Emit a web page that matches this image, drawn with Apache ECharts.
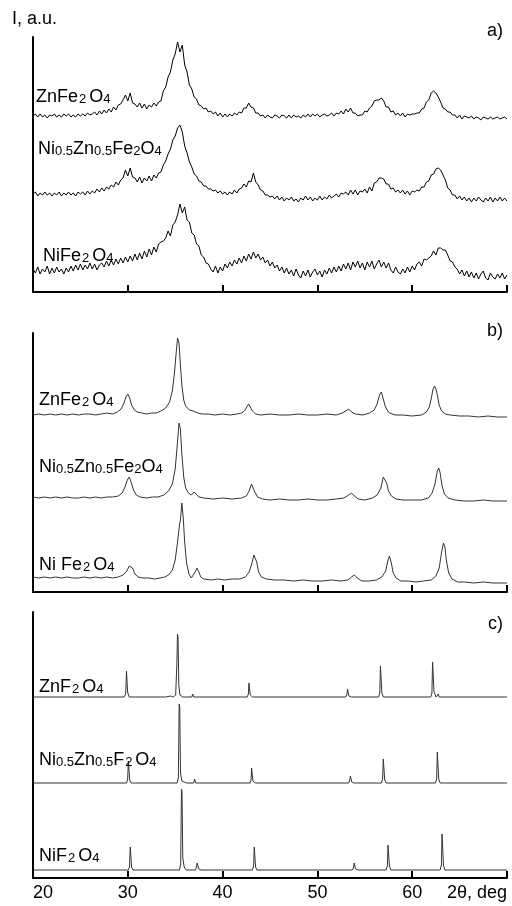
<!DOCTYPE html>
<html>
<head>
<meta charset="utf-8">
<script src="https://cdn.jsdelivr.net/npm/echarts@6/dist/echarts.min.js"></script>
<style>html,body{margin:0;padding:0;background:#fff}#c{width:512px;height:906px}</style>
</head>
<body>
<div id="c"></div>
<script>
// ---------- DATA ----------
// Panel a): noisy patterns sampled every 0.25 deg from 20 to 70 deg (2theta)
const twoThetaStartA = 20;
const twoThetaStepA = 0.25;
const znFeA = [0,2,-1,2,-1,1,-2,1,0,2,-1,1,-1,2,0,2,-1,1,-1,2,0,2,0,3,1,
  2,4,1,5,2,6,3,7,4,9,6,11,
  12,16,21,15,23,13,12,
  9,13,8,12,7,11,9,13,10,14,
  15,25,29,39,44,56,62,74,64,71,51,44,31,27,19,17,11,10,
  7,8,4,5,2,4,0,3,-1,2,-1,2,0,3,1,4,
  3,8,8,13,9,8,3,3,0,
  1,-2,1,-1,-2,1,0,-2,1,0,-2,1,-2,1,-1,0,-2,1,-1,2,-1,2,0,2,-1,1,2,0,1,3,0,3,
  2,5,2,7,4,8,3,3,0,1,
  1,5,4,8,10,15,16,16,18,15,9,9,4,5,1,3,
  0,3,-1,2,1,2,2,3,3,
  7,8,14,16,23,25,23,19,14,8,7,4,4,1,1,
  -2,1,-3,0,-1,-2,0,-3,-1,-2,-4,-1,-2,-3,-1,-3,-2,-1,-3,-2,-1,-3];
const niZnFeA = [1,3,-1,2,0,3,0,2,-1,2,0,3,-1,2,0,3,0,2,-1,3,1,3,0,4,1,4,2,
  6,3,7,4,8,6,10,8,13,10,15,
  17,25,19,27,18,
  17,13,18,12,17,14,19,14,20,17,22,
  23,30,34,41,46,55,59,67,70,63,49,42,33,28,21,19,14,13,
  9,9,6,6,4,5,2,4,1,3,0,3,1,5,2,6,7,
  11,8,14,13,22,13,10,5,4,0,
  0,-2,-1,-4,-1,-5,-2,-6,-3,-5,-2,-6,-4,-7,-3,-5,-1,-5,-2,-6,-3,-5,-1,-5,-2,-4,0,-3,-1,1,-2,2,
  1,3,0,5,1,5,0,4,3,6,2,8,4,
  12,13,17,17,16,11,11,6,7,3,5,
  2,5,1,4,0,4,3,5,4,8,
  8,13,14,20,21,26,27,25,20,15,7,5,0,0,
  -4,-1,-5,-2,-6,-3,-7,-3,-6,-2,-5,-7,-3,-6,-2,-7,-3,-6,-2,-6,-3,-6];
const niFeA = [-1,-5,1,-6,-1,-4,2,-6,0,-5,1,-4,-1,-6,0,
  -4,2,-3,3,-2,4,-2,3,-1,5,-1,4,-2,3,
  5,1,7,2,8,3,9,4,10,5,11,6,12,7,
  14,8,15,9,17,11,19,13,21,16,
  24,26,27,30,37,32,43,46,53,64,55,61,
  48,46,35,33,24,22,13,11,5,4,-1,
  -4,2,-5,1,-3,4,0,6,2,
  8,4,10,5,12,7,14,9,16,10,14,8,11,5,
  8,2,6,0,3,-3,1,-5,0,-6,
  -2,-8,-1,-7,-10,-3,-8,-2,-9,-4,-1,-7,-3,-9,-2,-6,0,-5,1,-4,
  2,-3,4,-1,5,-2,6,1,7,0,5,-2,6,1,7,-1,4,8,1,6,0,5,
  -2,-5,1,-4,-6,-1,-5,1,-4,2,-2,4,
  6,2,9,8,10,12,17,13,20,20,18,18,13,7,6,1,
  -1,-6,-2,-8,-3,-9,-4,-10,-5,-11,-6,-3,-10,-12,-5,-9,-11,-6,-10,-5,-11,-7];

// Panel b): [2theta, intensity]
const znFeB = [[20,0],[20.6,1],[21.2,0],[21.8,1],[22.4,0],[23,1],[23.6,0],[24.2,1],[24.8,0],[25.4,1],[26,1],[26.6,0],[27.2,1],[27.8,2],[28.4,1],[28.9,3],[29.3,6],[29.6,12],[29.8,18],[30.0,21],[30.2,17],[30.4,10],[30.7,5],[31.0,3],[31.5,2],[32,1],[32.5,2],[33,2],[33.5,4],[34.0,7],[34.4,13],[34.7,24],[34.9,40],[35.1,62],[35.25,77],[35.4,72],[35.55,50],[35.7,30],[35.9,15],[36.1,9],[36.3,7],[36.5,5],[36.7,6],[36.9,4],[37.1,5],[37.4,2],[37.8,1],[38.5,1],[39.2,0],[40,1],[40.8,0],[41.5,1],[42.0,2],[42.3,4],[42.55,8],[42.75,11],[42.95,9],[43.15,4],[43.5,1],[44,0],[45,1],[46,0],[47,0],[48,1],[49,0],[50,0],[51,1],[52,0],[52.6,2],[53.0,4],[53.3,6],[53.6,3],[54,1],[54.8,0],[55.5,2],[56.0,5],[56.3,11],[56.55,20],[56.75,23],[56.95,16],[57.15,9],[57.35,5],[57.6,2],[58.2,0],[59,0],[60,-1],[61,0],[61.5,3],[61.8,8],[62.0,16],[62.2,26],[62.35,29],[62.5,26],[62.65,20],[62.85,10],[63.1,4],[63.5,1],[64,0],[65,-1],[66,-1],[67,-2],[68,-1],[69,-2],[70,-2]];
const niZnFeB = [[20,2],[20.6,1],[21.2,2],[21.8,1],[22.4,2],[23,1],[23.6,2],[24.2,1],[24.8,1],[25.4,2],[26,1],[26.6,2],[27.2,1],[27.8,2],[28.4,2],[29,3],[29.4,6],[29.7,12],[29.95,19],[30.15,22],[30.35,17],[30.6,9],[30.9,4],[31.3,2],[32,1],[32.6,2],[33.2,2],[33.8,4],[34.3,8],[34.7,15],[35.0,30],[35.2,52],[35.4,76],[35.55,70],[35.7,45],[35.9,22],[36.1,11],[36.4,6],[36.7,4],[37.0,7],[37.2,5],[37.5,2],[38,1],[39,0],[40,1],[41,0],[42,1],[42.5,3],[42.8,8],[43.05,15],[43.2,14],[43.4,7],[43.7,2],[44.2,0],[45,-1],[46,0],[47,-1],[48,-1],[49,0],[50,-1],[51,-1],[52,0],[52.8,1],[53.3,4],[53.6,6],[53.9,3],[54.3,0],[55,-1],[55.8,1],[56.3,4],[56.7,11],[56.95,22],[57.1,24],[57.3,16],[57.5,8],[57.8,3],[58.3,0],[59,-1],[60,-1],[61,-1],[61.7,1],[62.1,6],[62.4,15],[62.65,28],[62.8,31],[62.95,26],[63.15,13],[63.4,5],[63.8,1],[64.5,-1],[65.5,-2],[66.5,-2],[67.5,-1],[68.5,-2],[69.3,-2],[70,-2]];
const niFeB = [[20,3],[20.6,2],[21.2,3],[21.8,2],[22.4,3],[23,2],[23.6,3],[24.2,2],[24.8,2],[25.4,3],[26,2],[26.6,3],[27.2,2],[27.8,3],[28.4,2],[29,3],[29.5,5],[29.9,9],[30.15,14],[30.3,16],[30.5,12],[30.75,6],[31.1,3],[31.6,2],[32.2,2],[32.8,1],[33.4,2],[33.9,3],[34.3,5],[34.7,10],[35.0,20],[35.25,38],[35.45,55],[35.55,60],[35.7,77],[35.85,62],[36.0,38],[36.2,17],[36.45,6],[36.7,2],[36.9,3],[37.1,8],[37.3,12],[37.5,8],[37.7,3],[38,1],[38.8,0],[39.5,1],[40.2,0],[41,1],[41.8,1],[42.4,3],[42.8,8],[43.1,17],[43.3,25],[43.45,26],[43.6,18],[43.8,8],[44.1,3],[44.6,1],[45.5,0],[46.5,0],[47.5,-1],[48.5,0],[49.5,-1],[50.5,-1],[51.5,0],[52.5,-1],[53.2,0],[53.6,3],[53.9,5],[54.2,2],[54.7,-1],[55.5,-1],[56.2,0],[56.8,3],[57.2,9],[57.45,20],[57.6,24],[57.8,17],[58.0,7],[58.3,2],[58.8,-1],[59.6,-1],[60.4,-2],[61.2,-1],[62.0,0],[62.5,4],[62.85,12],[63.1,28],[63.3,37],[63.45,33],[63.6,20],[63.85,7],[64.2,1],[64.8,-2],[65.5,-2],[66.5,-3],[67.5,-2],[68.5,-3],[69.3,-3],[70,-3]];

// Panel c): [2theta, intensity]
const znFC = [[20,0],[29.6,0],[29.78,3],[29.86,26],[29.92,28],[29.98,5],[30.15,0],[34.0,0],[34.5,1],[34.8,0],[35.05,2],[35.18,35],[35.24,63],[35.3,60],[35.38,12],[35.5,2],[35.8,0],[36.75,0],[36.85,3],[36.95,0],[42.6,0],[42.72,3],[42.78,14],[42.84,13],[42.92,2],[43.15,0],[53.0,0],[53.12,3],[53.18,8],[53.24,7],[53.32,1],[53.56,0],[56.45,0],[56.58,4],[56.65,31],[56.71,29],[56.8,4],[56.95,0],[61.95,0],[62.08,4],[62.15,35],[62.21,33],[62.3,5],[62.52,0],[62.75,3],[62.85,0],[70,0]];
const niZnFC = [[20,0],[29.85,0],[29.98,3],[30.06,22],[30.12,21],[30.2,3],[30.35,0],[35.2,0],[35.33,5],[35.42,79],[35.48,76],[35.56,10],[35.7,2],[35.95,1],[36.2,0],[36.95,0],[37.05,4],[37.16,0],[42.9,0],[43.0,3],[43.06,15],[43.12,14],[43.2,2],[43.45,0],[53.3,0],[53.42,3],[53.48,7],[53.54,6],[53.62,1],[53.85,0],[56.75,0],[56.88,4],[56.95,24],[57.01,23],[57.1,3],[57.25,0],[62.45,0],[62.58,4],[62.65,31],[62.71,29],[62.8,4],[62.95,0],[70,0]];
const niFC = [[20,0],[30.05,0],[30.18,3],[30.26,23],[30.32,21],[30.4,3],[30.55,0],[35.45,0],[35.58,6],[35.66,81],[35.72,78],[35.8,12],[35.95,3],[36.15,0],[37.15,0],[37.26,4],[37.32,7],[37.38,6],[37.48,1],[37.72,0],[43.15,0],[43.27,4],[43.34,23],[43.4,22],[43.48,3],[43.62,0],[53.7,0],[53.82,3],[53.88,7],[53.94,6],[54.02,1],[54.27,0],[57.25,0],[57.38,4],[57.45,25],[57.51,24],[57.6,4],[57.75,0],[62.95,0],[63.08,5],[63.15,36],[63.22,34],[63.3,5],[63.45,0],[70,0]];

const xTicks = [20, 30, 40, 50, 60, 70];
const xAxisTitle = '2θ, deg';
const yAxisTitle = 'I, a.u.';
const panelLetters = ['a)', 'b)', 'c)'];

// ---------- LAYOUT ----------
const grids = [
  {left: 33, right: 5, top: 37, height: 255},
  {left: 33, right: 5, top: 333, height: 259},
  {left: 33, right: 5, top: 612, height: 266}
];
// vertical shift of each stacked pattern (in axis units = px)
const shiftA = {zn: 176, niZn: 97, ni: 24};
const shiftB = {zn: 177, niZn: 93, ni: 12};
const shiftC = {zn: 181, niZn: 95, ni: 8};

const FONT = "'Liberation Sans', Arial, sans-serif";

function xAxis(i) {
  return {
    type: 'value', gridIndex: i, min: xTicks[0], max: xTicks[xTicks.length - 1], interval: 10,
    axisLine: {show: true, onZero: false, lineStyle: {color: '#000', width: 2}},
    axisTick: {show: true, inside: true, length: 7, lineStyle: {color: '#000', width: 2}},
    splitLine: {show: false},
    axisLabel: i === 2 ? {
      show: true, color: '#000', fontSize: 18, fontFamily: FONT, margin: 6,
      showMinLabel: true, showMaxLabel: true, alignMinLabel: 'left', alignMaxLabel: 'right',
      formatter: v => (v === 70 ? xAxisTitle : String(v))
    } : {show: false}
  };
}
function yAxis(i) {
  return {
    type: 'value', gridIndex: i, min: 0, max: grids[i].height,
    axisLine: {show: true, lineStyle: {color: '#000', width: 2}},
    axisTick: {show: false}, axisLabel: {show: false}, splitLine: {show: false}
  };
}
function lineSeries(i, data, color) {
  return {
    type: 'line', xAxisIndex: i, yAxisIndex: i, data: data, showSymbol: false,
    symbol: 'none', clip: false, silent: true,
    lineStyle: {color: color, width: 1}
  };
}
const sampled = (arr, shift) => arr.map((v, k) => [twoThetaStartA + k * twoThetaStepA, v + shift]);
const shifted = (arr, shift) => arr.map(p => [p[0], p[1] + shift]);

const rich = {
  n: {fontSize: 18, lineHeight: 22, fontFamily: FONT, color: '#000', verticalAlign: 'bottom'},
  s: {fontSize: 13, lineHeight: 14, fontFamily: FONT, color: '#000', verticalAlign: 'bottom'},
  g: {fontSize: 13, lineHeight: 14, fontFamily: FONT, color: '#000', verticalAlign: 'bottom', padding: [0, 3, 0, 1]}
};
function label(text, left, top) {
  return {text: text, left: left, top: top, padding: 0, itemGap: 0,
    textStyle: {fontSize: 18, fontFamily: FONT, color: '#000', fontWeight: 'normal', rich: rich}};
}
function plain(text, left, top, right) {
  const t = {text: text, top: top, padding: 0,
    textStyle: {fontSize: 18, fontFamily: FONT, color: '#000', fontWeight: 'normal', lineHeight: 22}};
  if (right !== undefined) t.right = right; else t.left = left;
  return t;
}

const option = {
  animation: false,
  grid: grids,
  xAxis: [xAxis(0), xAxis(1), xAxis(2)],
  yAxis: [yAxis(0), yAxis(1), yAxis(2)],
  title: [
    plain(yAxisTitle, 12, 8),
    plain(panelLetters[0], 0, 20, 9),
    plain(panelLetters[1], 0, 320, 9),
    plain(panelLetters[2], 0, 613, 9),
    label('{n|ZnFe}{g|2}{n|O}{s|4}', 36, 84),
    label('{n|Ni}{s|0.5}{n|Zn}{s|0.5}{n|Fe}{s|2}{n|O}{s|4}', 38, 136),
    label('{n|NiFe}{g|2}{n|O}{s|4}', 43, 243),
    label('{n|ZnFe}{g|2}{n|O}{s|4}', 39, 387),
    label('{n|Ni}{s|0.5}{n|Zn}{s|0.5}{n|Fe}{s|2}{n|O}{s|4}', 39, 454),
    label('{n|Ni Fe}{g|2}{n|O}{s|4}', 39, 552),
    label('{n|ZnF}{g|2}{n|O}{s|4}', 39, 674),
    label('{n|Ni}{s|0.5}{n|Zn}{s|0.5}{n|F}{g|2}{n|O}{s|4}', 39, 747),
    label('{n|NiF}{g|2}{n|O}{s|4}', 39, 843)
  ],
  series: [
    lineSeries(0, sampled(znFeA, shiftA.zn), '#000'),
    lineSeries(0, sampled(niZnFeA, shiftA.niZn), '#000'),
    lineSeries(0, sampled(niFeA, shiftA.ni), '#000'),
    lineSeries(1, shifted(znFeB, shiftB.zn), '#333'),
    lineSeries(1, shifted(niZnFeB, shiftB.niZn), '#333'),
    lineSeries(1, shifted(niFeB, shiftB.ni), '#333'),
    lineSeries(2, shifted(znFC, shiftC.zn), '#333'),
    lineSeries(2, shifted(niZnFC, shiftC.niZn), '#333'),
    lineSeries(2, shifted(niFC, shiftC.ni), '#333')
  ]
};
const chart = echarts.init(document.getElementById('c'), null, {renderer: 'canvas'});
chart.setOption(option);
</script>
</body>
</html>
